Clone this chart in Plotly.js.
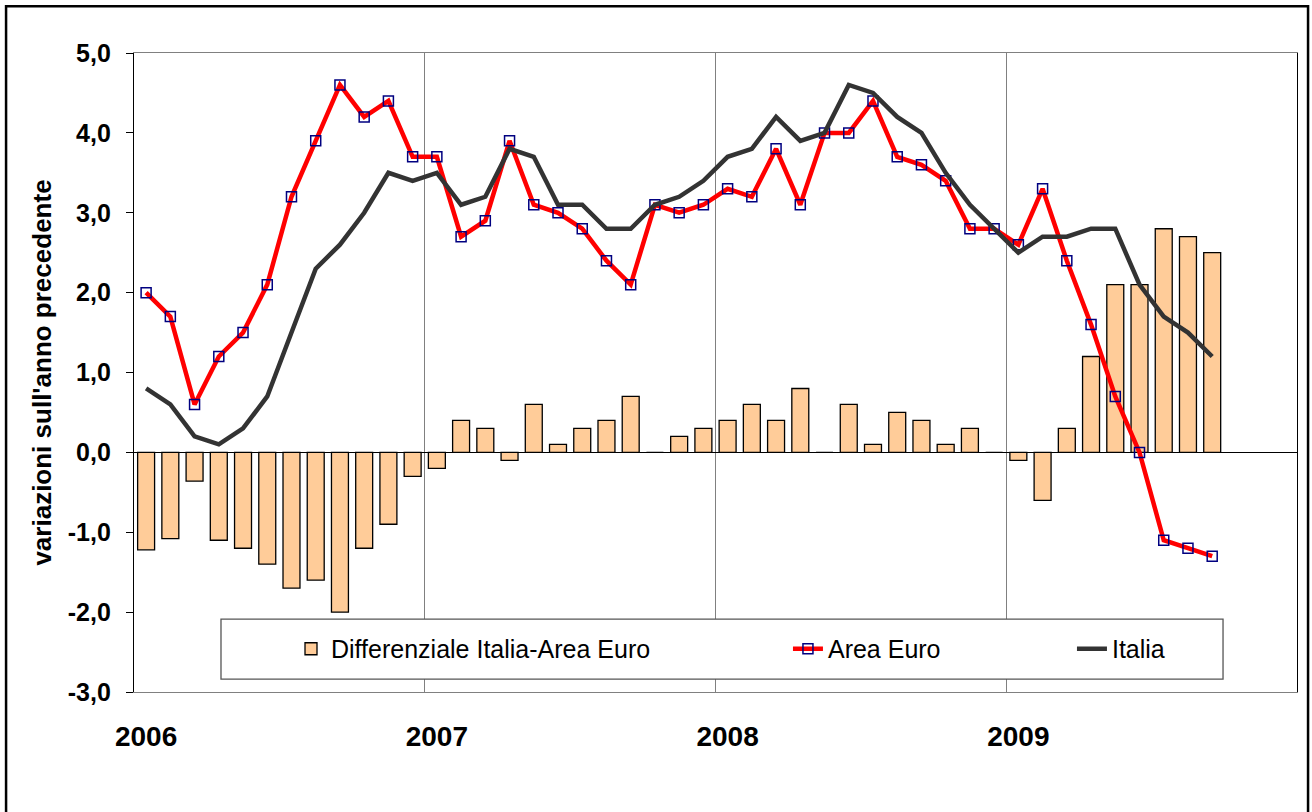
<!DOCTYPE html>
<html>
<head>
<meta charset="utf-8">
<script src="https://cdn.plot.ly/plotly-3.0.1.min.js"></script>
<style>html,body{margin:0;padding:0;background:#fff;}#chart{width:1312px;height:812px;}</style>
</head>
<body>
<div id="chart"></div>
<script>
// Mesi (gen 2006 - set 2009)
const months = [
  "2006-01","2006-02","2006-03","2006-04","2006-05","2006-06","2006-07","2006-08","2006-09","2006-10","2006-11","2006-12",
  "2007-01","2007-02","2007-03","2007-04","2007-05","2007-06","2007-07","2007-08","2007-09","2007-10","2007-11","2007-12",
  "2008-01","2008-02","2008-03","2008-04","2008-05","2008-06","2008-07","2008-08","2008-09","2008-10","2008-11","2008-12",
  "2009-01","2009-02","2009-03","2009-04","2009-05","2009-06","2009-07","2009-08","2009-09"
];
const differenziale = [
  -1.22,-1.08,-0.36,-1.1,-1.2,-1.4,-1.7,-1.6,-2.0,-1.2,-0.9,-0.3,
  -0.2,0.4,0.3,-0.1,0.6,0.1,0.3,0.4,0.7,0.0,0.2,0.3,
  0.4,0.6,0.4,0.8,0.0,0.6,0.1,0.5,0.4,0.1,0.3,0.0,
  -0.1,-0.6,0.3,1.2,2.1,2.1,2.8,2.7,2.5
];
const areaEuro = [
  2.0,1.7,0.6,1.2,1.5,2.1,3.2,3.9,4.6,4.2,4.4,3.7,
  3.7,2.7,2.9,3.9,3.1,3.0,2.8,2.4,2.1,3.1,3.0,3.1,
  3.3,3.2,3.8,3.1,4.0,4.0,4.4,3.7,3.6,3.4,2.8,2.8,
  2.6,3.3,2.4,1.6,0.7,0.0,-1.1,-1.2,-1.3
];
const italia = [
  0.8,0.6,0.2,0.1,0.3,0.7,1.5,2.3,2.6,3.0,3.5,3.4,
  3.5,3.1,3.2,3.8,3.7,3.1,3.1,2.8,2.8,3.1,3.2,3.4,
  3.7,3.8,4.2,3.9,4.0,4.6,4.5,4.2,4.0,3.5,3.1,2.8,
  2.5,2.7,2.7,2.8,2.8,2.1,1.7,1.5,1.2
];
const yearLabels = ["2006","2007","2008","2009"];
const yearStartIdx = [0,12,24,36];
const yearBoundaries = [11.5,23.5,35.5];
const yTickVals = [-3,-2,-1,0,1,2,3,4,5];
const yTickText = ["-3,0","-2,0","-1,0","0,0","1,0","2,0","3,0","4,0","5,0"];

const xIdx = months.map((m,i)=>i);
const FONT = "Liberation Sans, Arial, sans-serif";

const traces = [
  {
    type:"bar", name:"Differenziale Italia-Area Euro", x:xIdx, y:differenziale, width:0.7,
    marker:{color:"#FFCC99", line:{color:"#000000", width:1.3}},
    legend:"legend", hoverinfo:"x+y"
  },
  {
    type:"scatter", mode:"lines+markers", name:"Area Euro", x:xIdx, y:areaEuro,
    line:{color:"#FF0000", width:4.5},
    marker:{symbol:"square-open", size:10, color:"#000080", line:{width:1.5, color:"#000080"}},
    legend:"legend2"
  },
  {
    type:"scatter", mode:"lines", name:"Italia", x:xIdx, y:italia,
    line:{color:"#333333", width:4.5},
    legend:"legend3"
  }
];

const legBase = {orientation:"h", yanchor:"middle", xanchor:"left", bgcolor:"rgba(0,0,0,0)",
  borderwidth:0, font:{family:FONT, size:25, color:"#000"}};

const layout = {
  width:1312, height:812,
  margin:{l:134, r:15, t:53, b:120, pad:0},
  paper_bgcolor:"#ffffff", plot_bgcolor:"#ffffff",
  separators:", ",
  showlegend:true,
  xaxis:{
    range:[-0.5,47.5], showgrid:false, zeroline:false,
    tickmode:"array", tickvals:yearStartIdx, ticktext:yearLabels,
    ticks:"outside", ticklen:19, tickcolor:"rgba(0,0,0,0)",
    tickfont:{family:FONT, size:28, color:"#000", weight:"bold"},
    showline:true, linecolor:"#808080", linewidth:1.3, mirror:true,
    minor:{tickmode:"array", tickvals:yearBoundaries, showgrid:true, gridcolor:"#808080", gridwidth:1, ticks:""}
  },
  yaxis:{
    range:[-3,5], tickmode:"array", tickvals:yTickVals, ticktext:yTickText,
    showgrid:false, zeroline:true, zerolinecolor:"#000", zerolinewidth:1.3,
    ticks:"outside", ticklen:7, tickcolor:"#000", tickwidth:1,
    ticklabelstandoff:10,
    tickfont:{family:FONT, size:25, color:"#000", weight:"bold"},
    showline:true, linecolor:"#000", linewidth:1.3, mirror:true,
    title:{text:"variazioni sull'anno precedente", standoff:8,
      font:{family:FONT, size:26, color:"#000", weight:"bold"}}
  },
  legend: Object.assign({}, legBase, {x:0.135, y:0.0673}),
  legend2: Object.assign({}, legBase, {x:0.5623, y:0.0673}),
  legend3: Object.assign({}, legBase, {x:0.8065, y:0.0673}),
  shapes:[
    {type:"rect", xref:"paper", yref:"paper", x0:0.0748, x1:0.9364, y0:0.0203, y1:0.1142,
     line:{color:"#555555", width:1.3}, fillcolor:"#ffffff", layer:"above"},
    {type:"rect", xref:"paper", yref:"paper", x0:-0.1100, x1:1.0095, y0:-0.25, y1:1.0730,
     line:{color:"#000000", width:2.5}, fillcolor:"rgba(0,0,0,0)", layer:"above"}
  ]
};

Plotly.newPlot("chart", traces, layout, {displayModeBar:false, responsive:false});
</script>
</body>
</html>
